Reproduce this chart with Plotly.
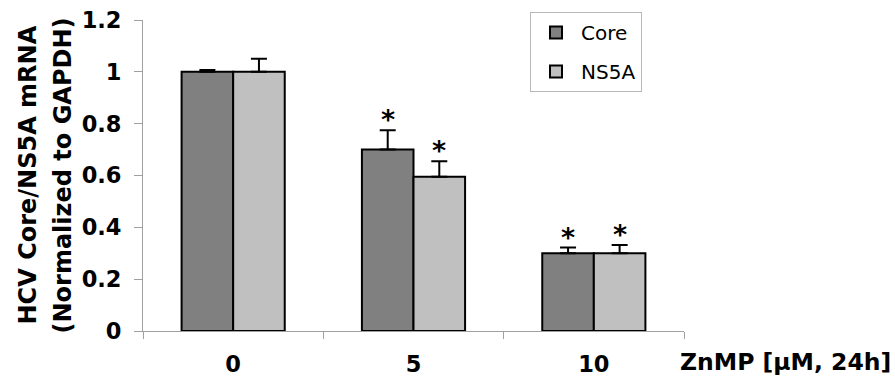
import plotly.graph_objects as go

categories = ["0", "5", "10"]
core = [1.0, 0.70, 0.30]
core_err = [0.007, 0.075, 0.022]
ns5a = [1.0, 0.595, 0.30]
ns5a_err = [0.05, 0.06, 0.032]
core_sig = [False, True, True]
ns5a_sig = [False, True, True]
y_ticks = [0, 0.2, 0.4, 0.6, 0.8, 1.0, 1.2]

FONT = "DejaVu Sans"
W, H = 895, 377
ML, MR, MT, MB = 143, 211, 20, 46
PW = W - ML - MR
PH = H - MT - MB

fig = go.Figure()
fig.add_trace(go.Bar(
    x=categories, y=core, name="Core", legendgroup="a",
    marker=dict(color="#808080", line=dict(color="black", width=2)),
    error_y=dict(type="data", symmetric=False, array=core_err,
                 arrayminus=[0] * len(core), color="black", thickness=2, width=8),
))
fig.add_trace(go.Bar(
    x=categories, y=ns5a, name="NS5A", legendgroup="b",
    marker=dict(color="#c0c0c0", line=dict(color="black", width=2)),
    error_y=dict(type="data", symmetric=False, array=ns5a_err,
                 arrayminus=[0] * len(ns5a), color="black", thickness=2, width=8),
))

bar_half = PW / 3 * (1 - 0.428) / 4
star_font = dict(family=FONT, size=27, color="black", weight="bold")
annotations = []
for i, (v, e, s) in enumerate(zip(core, core_err, core_sig)):
    if s:
        annotations.append(dict(x=i, y=v + e, xref="x", yref="y", text="*",
                                showarrow=False, xshift=-bar_half, yanchor="bottom",
                                yshift=-7, font=star_font))
for i, (v, e, s) in enumerate(zip(ns5a, ns5a_err, ns5a_sig)):
    if s:
        annotations.append(dict(x=i, y=v + e, xref="x", yref="y", text="*",
                                showarrow=False, xshift=bar_half, yanchor="bottom",
                                yshift=-7, font=star_font))

title_font = dict(family=FONT, size=24, color="black", weight="bold")
annotations.append(dict(x=(27 - ML) / PW, y=0.5, xref="paper", yref="paper",
                        text="HCV Core/NS5A mRNA", textangle=-90, showarrow=False,
                        xanchor="center", yanchor="middle", font=title_font))
annotations.append(dict(x=(62 - ML) / PW, y=0.5, xref="paper", yref="paper",
                        text="(Normalized to GAPDH)", textangle=-90, showarrow=False,
                        xanchor="center", yanchor="middle", font=title_font))
annotations.append(dict(x=(678 - ML) / PW, y=(331 - 362) / PH, xref="paper", yref="paper",
                        text="ZnMP [µM, 24h]", showarrow=False,
                        xanchor="left", yanchor="middle",
                        font=dict(family=FONT, size=23.5, color="black", weight="bold")))

fig.update_layout(
    width=W, height=H,
    margin=dict(l=ML, r=MR, t=MT, b=MB, autoexpand=False),
    paper_bgcolor="white", plot_bgcolor="white",
    barmode="group", bargap=0.428, bargroupgap=0,
    showlegend=True,
    legend=dict(x=(530 - ML) / PW, y=(331 - 12) / PH, xanchor="left", yanchor="top",
                bordercolor="#b8b8b8", borderwidth=1, bgcolor="white",
                font=dict(family=FONT, size=20, color="black"),
                traceorder="grouped", tracegroupgap=10, itemwidth=40),
    annotations=annotations,
    xaxis=dict(type="category", categoryorder="array", categoryarray=categories,
               range=[-0.5, 2.5], showline=True, linecolor="#a0a0a0", linewidth=1,
               ticks="outside", tickson="boundaries", ticklen=7, tickcolor="#a0a0a0",
               showgrid=False, zeroline=False, ticklabelstandoff=13,
               tickfont=dict(family=FONT, size=22.5, color="black", weight="bold")),
    yaxis=dict(range=[0, 1.2], tickvals=y_ticks, showline=True, linecolor="#a0a0a0",
               linewidth=1, ticks="outside", ticklen=8, tickcolor="#a0a0a0",
               showgrid=False, zeroline=False, ticklabelstandoff=8,
               tickfont=dict(family=FONT, size=22.5, color="black", weight="bold")),
)

fig.write_html("out.html")
